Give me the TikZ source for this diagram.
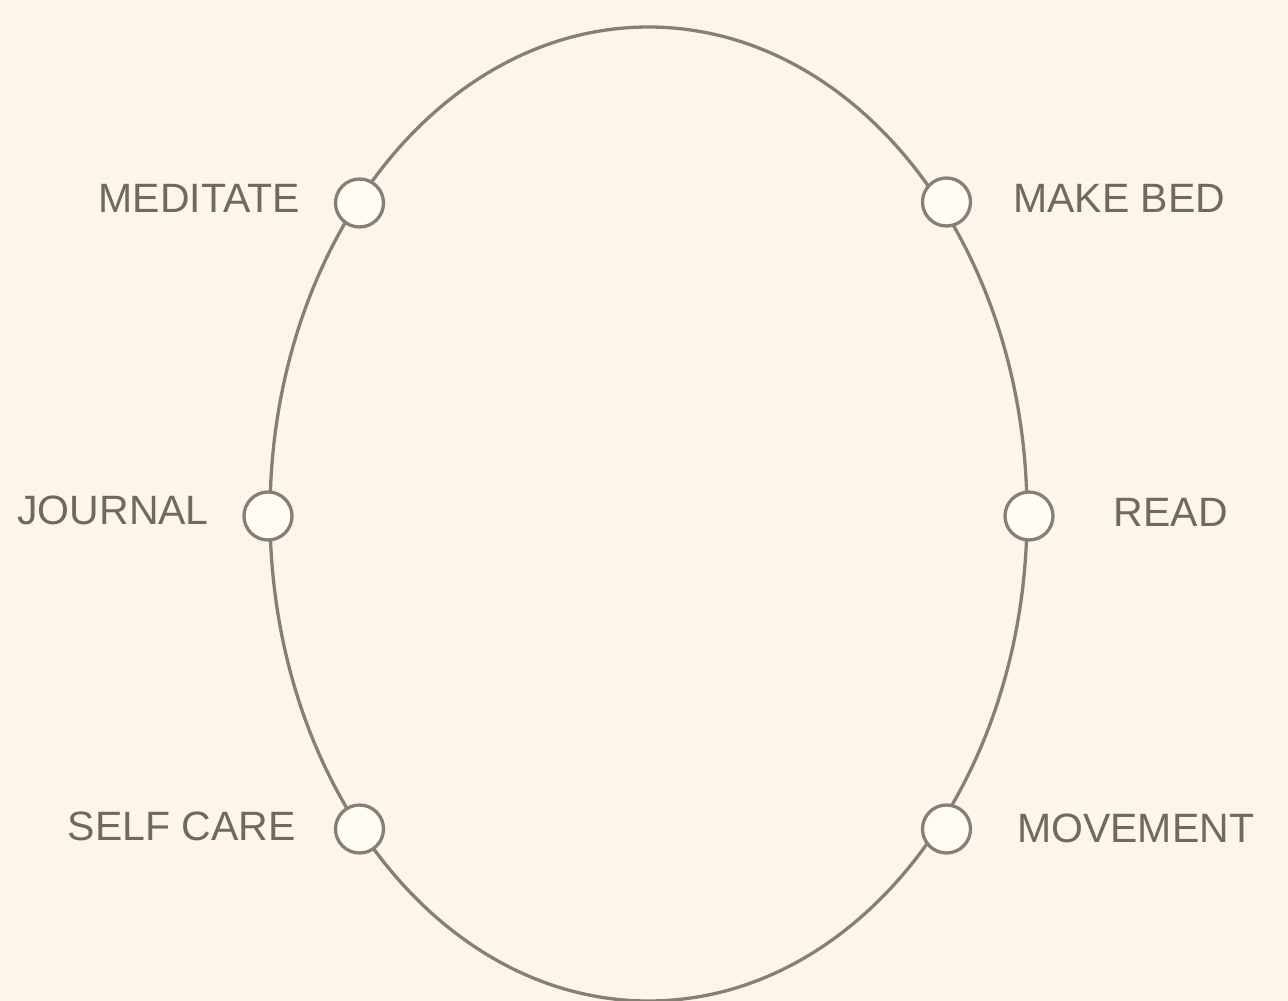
\documentclass[tikz,border=0pt]{standalone}
\usepackage{fontspec}
\setmainfont{Liberation Sans}
\definecolor{bgc}{RGB}{253,244,234}
\definecolor{linec}{RGB}{135,127,117}
\definecolor{txtc}{RGB}{112,105,95}
\definecolor{dotc}{RGB}{255,252,243}
\begin{document}
\begin{tikzpicture}[x=1pt,y=-1pt,
  dot/.style={circle,draw=linec,fill=dotc,line width=3.3pt,minimum size=48pt,inner sep=0pt},
  lbl/.style={text=txtc,inner sep=0pt,font=\fontsize{41}{49}\selectfont}]
\useasboundingbox (0,0) rectangle (1288,1001);
\fill[bgc] (0,0) rectangle (1288,1001);
\draw[linec,line width=3.3pt] (648.5,514) ellipse [x radius=378.5, y radius=487];
\node[dot] (meditate) at (359.5,203) {};
\node[dot] (makebed) at (946.5,202) {};
\node[dot] (journal) at (268,516) {};
\node[dot] (read) at (1029,516) {};
\node[dot] (selfcare) at (359.5,829) {};
\node[dot] (movement) at (946.5,829) {};
\node[lbl,anchor=east] (tmeditate) at (300,198) {MEDITATE};
\node[lbl,anchor=west] (tmakebed) at (1013,198) {MAKE BED};
\node[lbl,anchor=east] (tjournal) at (209,510) {JOURNAL};
\node[lbl,anchor=east] (tread) at (1228,512) {READ};
\node[lbl,anchor=east] (tselfcare) at (296,826) {SELF CARE};
\node[lbl,anchor=west] (tmovement) at (1017,828) {MOVEMENT};
\end{tikzpicture}
\end{document}
